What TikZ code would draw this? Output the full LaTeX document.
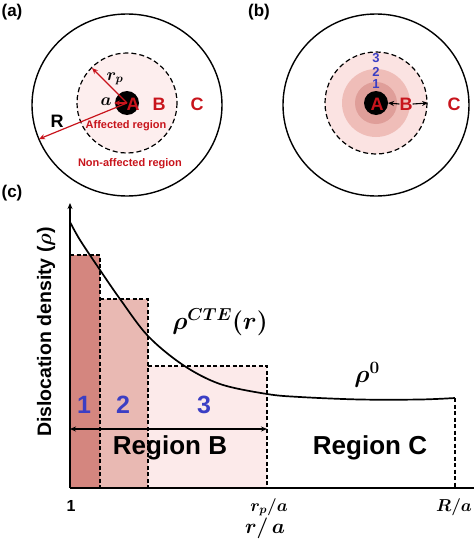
\documentclass[tikz,border=0pt]{standalone}
\usepackage{fontspec}
\setmainfont{Liberation Sans}
\usepackage{amsmath}
\usepackage{bm}
\usetikzlibrary{arrows.meta}
\definecolor{redtxt}{HTML}{C8141C}
\definecolor{bluetxt}{HTML}{3B3EC4}
\definecolor{pinkA}{HTML}{FDEEEE}
\definecolor{ringC}{HTML}{FBE3E2}
\definecolor{ringB}{HTML}{EFBDB8}
\definecolor{ringA}{HTML}{DF9E99}
\definecolor{barone}{HTML}{D4867F}
\definecolor{bartwo}{HTML}{E9B9B3}
\definecolor{barthree}{HTML}{FCEAEA}
\tikzset{
  panel/.style={font=\fontsize{17}{19}\selectfont\bfseries, inner sep=0pt},
  bigred/.style={font=\fontsize{18}{20}\selectfont\bfseries, text=redtxt, inner sep=0pt},
  smallred/.style={font=\fontsize{11}{13}\selectfont\bfseries, text=redtxt, inner sep=0pt},
  mathlbl/.style={font=\fontsize{18}{20}\selectfont, inner sep=0pt},
  bluenum/.style={font=\fontsize{25}{27}\selectfont\bfseries, text=bluetxt, inner sep=0pt},
  tinyblue/.style={font=\fontsize{13}{14}\selectfont\bfseries, text=bluetxt, inner sep=0pt},
  regionlbl/.style={font=\fontsize{26}{28}\selectfont\bfseries, inner sep=0pt},
  outerc/.style={line width=1.4pt},
  dashc/.style={line width=1.2pt, dash pattern=on 5pt off 3pt},
  redarrow/.style={draw=redtxt, line width=1.2pt, -{Stealth[length=6pt,width=5pt]}},
  blackarrow/.style={draw=black, line width=1.1pt, -{Stealth[length=6pt,width=5pt]}},
  bardash/.style={line width=1.1pt, dash pattern=on 4pt off 2.5pt},
}
\begin{document}
\begin{tikzpicture}[x=1pt,y=-1pt]
\useasboundingbox (0,0) rectangle (474,546);
% ---------- panel (a)
\node[panel] (pa) at (12,12) {(a)};
\coordinate (ca) at (127,103);
\draw[outerc] (127,105) ellipse [x radius=95, y radius=91];
\draw[dashc, fill=pinkA] (ca) circle (50);
\fill (ca) circle (12);
\coordinate (rpend) at (92,68);
\coordinate (Rend) at (39,139);
\coordinate (aend) at (114,103);
\draw[redarrow] (ca) -- (rpend);
\draw[redarrow] (ca) -- (Rend);
\draw[redarrow] (ca) -- (aend);
\node[mathlbl] (rpl) at (115,79) {$\bm{r_p}$};
\node[mathlbl] (al) at (106,102) {$\bm{a}$};
\node[bigred] (Aa) at (133,104) {A};
\node[bigred] (Ba) at (159,104) {B};
\node[bigred] (Ca) at (197,104) {C};
\node[font=\fontsize{18}{20}\selectfont\bfseries, inner sep=0pt] (Rl) at (57,121) {R};
\node[smallred] (aff) at (126,126) {Affected region};
\node[smallred] (naff) at (130,164) {Non-affected region};
% ---------- panel (b)
\node[panel] (pb) at (259,12) {(b)};
\coordinate (cb) at (376,103);
\draw[outerc] (376,105) ellipse [x radius=93, y radius=91];
\draw[dashc, fill=ringC] (cb) circle (51);
\fill[ringB] (cb) circle (34);
\fill[ringA] (cb) circle (21);
\fill (cb) circle (12);
\node[tinyblue] (n3) at (376,58) {3};
\node[tinyblue] (n2) at (376,72) {2};
\node[tinyblue] (n1) at (376,84) {1};
\node[bigred] (Ab) at (377,104) {A};
\node[bigred] (Bb) at (406,104) {B};
\node[bigred] (Cb) at (454,104) {C};
\coordinate (bdisk) at (388,103);
\coordinate (bdash) at (428,103);
\draw[blackarrow] (Bb.west) -- (bdisk);
\draw[blackarrow] (Bb.east) -- (bdash);
% ---------- panel (c)
\node[panel] (pc) at (12,193) {(c)};
\fill[barthree] (148,366) rectangle (267,488);
\fill[bartwo] (100,299) rectangle (148,488);
\fill[barone] (70,255) rectangle (100,488);
\draw[bardash] (70,255) -- (100,255) -- (100,488);
\draw[bardash] (100,299) -- (148,299) -- (148,488);
\draw[bardash] (148,366) -- (267,366) -- (267,488);
\coordinate (origin) at (70,488);
\coordinate (ytop) at (70,203);
\coordinate (xend) at (474,488);
\draw[line width=1.4pt, -{Stealth[length=6pt,width=5pt]}] (origin) -- (ytop);
\draw[line width=1.4pt] (origin) -- (xend);
\draw[line width=1.7pt] plot[smooth, tension=0.55] coordinates {(70,222) (80,240) (100,270) (120,299) (148,336) (183,365) (220,384) (267,394) (300,397) (360,399.5) (420,399.5) (455,398)};
\coordinate (cend) at (455,398);
\coordinate (cendb) at (455,488);
\draw[bardash] (cend) -- (cendb);
\coordinate (rbL) at (70,429);
\coordinate (rbR) at (267,429);
\draw[line width=1.3pt, {Stealth[length=6pt,width=5pt]}-{Stealth[length=6pt,width=5pt]}] (rbL) -- (rbR);
\node[bluenum] (b1) at (84,405) {1};
\node[bluenum] (b2) at (123,405) {2};
\node[bluenum] (b3) at (204,405) {3};
\node[regionlbl] (rB) at (170,448) {Region B};
\node[regionlbl] (rC) at (370,448) {Region C};
\node[font=\fontsize{24}{26}\selectfont, inner sep=0pt] (rcte) at (220,322) {$\bm{\rho^{CTE}(r)}$};
\node[font=\fontsize{24}{26}\selectfont, inner sep=0pt] (rzero) at (367,375) {$\bm{\rho^{0}}$};
\node[font=\fontsize{19.5}{21}\selectfont\bfseries, rotate=90, inner sep=0pt] (ylab) at (46,332) {Dislocation density ($\bm{\rho}$)};
\node[font=\fontsize{16}{18}\selectfont\bfseries, inner sep=0pt] (one) at (71,506) {1};
\node[mathlbl] (rpa) at (269,507) {$\bm{r_p/a}$};
\node[mathlbl] (Ra) at (454,507) {$\bm{R/a}$};
\node[font=\fontsize{22}{24}\selectfont, inner sep=0pt] (ra) at (265,528) {$\bm{r/\,a}$};
\end{tikzpicture}
\end{document}
